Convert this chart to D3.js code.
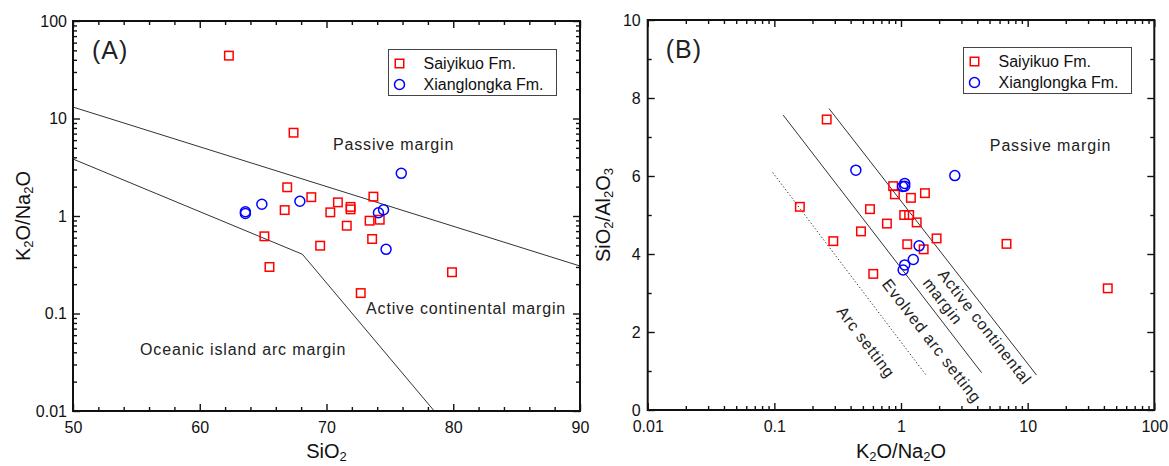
<!DOCTYPE html>
<html>
<head>
<meta charset="utf-8">
<script src="https://cdn.jsdelivr.net/npm/d3@7"></script>
<style>
  body { margin: 0; background: #fff; }
  svg { display: block; font-family: "Liberation Sans", Arial, sans-serif; }
  .tick text { font-size: 16px; fill: #111; }
  .note { font-size: 16px; fill: #222; letter-spacing: 0.85px; }
</style>
</head>
<body>
<div id="chart"></div>
<script>
//dep: d3

// (A) SiO2 vs K2O/Na2O
const saiyikuoA = [[62.3, 44.1], [67.4, 7.15], [66.9, 1.97], [68.8, 1.56], [66.7, 1.15], [70.9, 1.38],
  [70.3, 1.09], [71.9, 1.24], [71.9, 1.17], [73.7, 1.58], [73.4, 0.895], [74.2, 0.916], [71.6, 0.795],
  [73.6, 0.581], [65.1, 0.619], [69.5, 0.496], [65.5, 0.30], [72.7, 0.162], [79.9, 0.265]];
const xianglongkaA = [[63.6, 1.107], [63.6, 1.06], [64.9, 1.32], [67.9, 1.415], [75.9, 2.74],
  [74.5, 1.16], [74.1, 1.08], [74.7, 0.455]];

// (B) K2O/Na2O vs SiO2/Al2O3
const saiyikuoB = [[0.867, 5.74], [0.895, 5.53], [1.197, 5.44], [1.545, 5.56], [0.569, 5.15], [1.06, 5.0],
  [1.16, 5.0], [1.33, 4.81], [0.774, 4.78], [0.483, 4.58], [0.292, 4.33], [1.12, 4.25], [1.51, 4.12],
  [1.91, 4.40], [0.604, 3.49], [0.259, 7.45], [0.159, 5.21], [6.81, 4.26], [42.9, 3.12]];
const xianglongkaB = [[0.44, 6.15], [2.66, 6.01], [1.03, 5.73], [1.07, 5.81], [1.07, 5.74],
  [1.39, 4.21], [1.25, 3.86], [1.07, 3.72], [1.04, 3.59]];

// field boundaries
const passiveBoundA = [[50, 13.1], [90, 0.307]];
const oceanicBoundA = [[50, 3.84], [68.1, 0.405], [78.5, 0.01]];
const arcBoundB = [[0.097, 6.09], [1.59, 0.88]];
const evolvedBoundB = [[0.1175, 7.56], [4.33, 0.956]];
const activeBoundB = [[0.27, 7.73], [11.75, 0.897]];

const xTicksA = [50, 60, 70, 80, 90];
const yTicksA = [0.01, 0.1, 1, 10, 100];
const yTickLabelsA = ["0.01", "0.1", "1", "10", "100"];
const xTicksB = [0.01, 0.1, 1, 10, 100];
const xTickLabelsB = ["0.01", "0.1", "1", "10", "100"];
const yTicksB = [0, 2, 4, 6, 8, 10];

const seriesNames = ["Saiyikuo Fm.", "Xianglongka Fm."];

const svg = d3.select("#chart").append("svg")
  .attr("width", 1169)
  .attr("height", 466);
svg.append("rect").attr("width", 1169).attr("height", 466).attr("fill", "#fff");

function richText(sel, parts) {
  // parts: [text, isSub]
  parts.forEach(function(p) {
    let t = sel.append("tspan").text(p[0]);
    if (p[1]) t.attr("font-size", "0.65em").attr("dy", 2.5);
    else if (sel.selectAll("tspan").size() > 1) t.attr("dy", -2.5);
  });
}

function DiagramPanel(opts) {
  this.o = opts;
  this.x = opts.x;
  this.y = opts.y;
  this.g = svg.append("g");
}

DiagramPanel.prototype = {
  axes: function() {
    let o = this.o, x = this.x, y = this.y, g = this.g;
    let l = x.range()[0], r = x.range()[1], b = y.range()[0], t = y.range()[1];
    let clean = function(s) {
      s.select(".domain").remove();
      s.selectAll("line").attr("stroke", "#111").attr("stroke-width", 1.4);
    };
    // minor ticks
    g.append("g").attr("transform", "translate(0," + b + ")")
      .call(d3.axisBottom(x).tickValues(o.xMinor).tickSize(-4).tickFormat("")).call(clean);
    g.append("g").attr("transform", "translate(0," + t + ")")
      .call(d3.axisTop(x).tickValues(o.xMinor).tickSize(-4).tickFormat("")).call(clean);
    g.append("g").attr("transform", "translate(" + l + ",0)")
      .call(d3.axisLeft(y).tickValues(o.yMinor).tickSize(-4).tickFormat("")).call(clean);
    g.append("g").attr("transform", "translate(" + r + ",0)")
      .call(d3.axisRight(y).tickValues(o.yMinor).tickSize(-4).tickFormat("")).call(clean);
    // major ticks
    g.append("g").attr("transform", "translate(0," + b + ")")
      .call(d3.axisBottom(x).tickValues(o.xTicks).tickSize(-7).tickPadding(10.5)
        .tickFormat(function(d, i) { return o.xLabels[i]; })).call(clean);
    g.append("g").attr("transform", "translate(0," + t + ")")
      .call(d3.axisTop(x).tickValues(o.xTicks).tickSize(-7).tickFormat("")).call(clean);
    g.append("g").attr("transform", "translate(" + l + ",0)")
      .call(d3.axisLeft(y).tickValues(o.yTicks).tickSize(-7).tickPadding(o.yPad)
        .tickFormat(function(d, i) { return o.yLabels[i]; })).call(clean);
    g.append("g").attr("transform", "translate(" + r + ",0)")
      .call(d3.axisRight(y).tickValues(o.yTicks).tickSize(-7).tickFormat("")).call(clean);
    g.selectAll(".tick text").attr("font-family", null).attr("font-size", null);

    g.append("rect")
      .attr("x", l).attr("y", t)
      .attr("width", r - l).attr("height", b - t)
      .attr("fill", "none").attr("stroke", "#111").attr("stroke-width", 2);

    // titles
    let xt = g.append("text").attr("x", (l + r) / 2).attr("y", 458)
      .attr("text-anchor", "middle").attr("font-size", 20).attr("fill", "#111");
    richText(xt, o.xTitle);
    let yt = g.append("text")
      .attr("transform", "translate(" + o.yTitleX + "," + (t + b) / 2 + ") rotate(-90)")
      .attr("text-anchor", "middle").attr("font-size", 20).attr("fill", "#111");
    richText(yt, o.yTitle);

    g.append("text").attr("x", l + o.tagDx).attr("y", t + 38)
      .attr("font-size", 25).attr("letter-spacing", 1).attr("fill", "#222")
      .text(o.tag);
  },
  bounds: function(lines) {
    let x = this.x, y = this.y;
    let line = d3.line().x(function(d) { return x(d[0]); }).y(function(d) { return y(d[1]); });
    this.g.selectAll(".bound").data(lines).enter().append("path")
      .attr("class", "bound")
      .attr("d", function(d) { return line(d.pts); })
      .attr("fill", "none")
      .attr("stroke", "#333")
      .attr("stroke-width", 1)
      .attr("stroke-dasharray", function(d) { return d.dotted ? "1.3,2.2" : null; });
  },
  notes: function(notes) {
    let x = this.x, y = this.y;
    this.g.selectAll(".note").data(notes).enter().append("text")
      .attr("class", "note")
      .attr("text-anchor", function(d) { return d.rot ? "middle" : "start"; })
      .attr("dominant-baseline", function(d) { return d.rot ? "central" : null; })
      .attr("transform", function(d) {
        return "translate(" + x(d.at[0]) + "," + y(d.at[1]) + ")" + (d.rot ? " rotate(" + d.rot + ")" : "");
      })
      .text(function(d) { return d.text; });
  },
  points: function(sq, circ) {
    let x = this.x, y = this.y, s = 8.5;
    this.g.append("g").selectAll("rect").data(sq).enter().append("rect")
      .attr("x", function(d) { return x(d[0]) - s / 2; })
      .attr("y", function(d) { return y(d[1]) - s / 2; })
      .attr("width", s).attr("height", s)
      .attr("fill", "none").attr("stroke", "#ff0000").attr("stroke-width", 1.5);
    this.g.append("g").selectAll("circle").data(circ).enter().append("circle")
      .attr("cx", function(d) { return x(d[0]); })
      .attr("cy", function(d) { return y(d[1]); })
      .attr("r", 5)
      .attr("fill", "none").attr("stroke", "#0000ff").attr("stroke-width", 1.5);
  },
  legend: function(lx, ly) {
    let lg = this.g.append("g").attr("transform", "translate(" + lx + "," + ly + ")");
    lg.append("rect").attr("width", 168).attr("height", 46)
      .attr("fill", "#fff").attr("stroke", "#444").attr("stroke-width", 1);
    let s = 8.5;
    lg.append("rect").attr("x", 11 - s / 2).attr("y", 14 - s / 2).attr("width", s).attr("height", s)
      .attr("fill", "none").attr("stroke", "#ff0000").attr("stroke-width", 1.5);
    lg.append("circle").attr("cx", 11).attr("cy", 35).attr("r", 5)
      .attr("fill", "none").attr("stroke", "#0000ff").attr("stroke-width", 1.5);
    lg.selectAll("text").data(seriesNames).enter().append("text")
      .attr("x", 35).attr("y", function(d, i) { return 14 + i * 21; })
      .attr("dy", "0.35em").attr("font-size", 16).attr("fill", "#111")
      .text(function(d) { return d; });
  }
};

// ---- panel A
let pa = new DiagramPanel({
  x: d3.scaleLinear().domain([50, 90]).range([73, 580]),
  y: d3.scaleLog().domain([0.01, 100]).range([411, 21]),
  xTicks: xTicksA, xLabels: xTicksA.map(String),
  xMinor: d3.range(50, 91, 2).filter(function(v) { return v % 10 !== 0; }),
  yTicks: yTicksA, yLabels: yTickLabelsA, yPad: 6,
  yMinor: d3.scaleLog().domain([0.01, 100]).ticks().filter(function(v) { return yTicksA.indexOf(v) < 0; }),
  xTitle: [["SiO"], ["2", true]],
  yTitle: [["K"], ["2", true], ["O/Na"], ["2", true], ["O"]],
  yTitleX: 30, tag: "(A)", tagDx: 19
});
pa.bounds([{pts: passiveBoundA}, {pts: oceanicBoundA}]);
pa.notes([
  {text: "Passive margin", at: [70.51, 4.75]},
  {text: "Active continental margin", at: [73.12, 0.0989]},
  {text: "Oceanic island arc margin", at: [55.29, 0.0375]}
]);
pa.points(saiyikuoA, xianglongkaA);
pa.axes();
pa.legend(388.5, 49.5);

// ---- panel B
let pb = new DiagramPanel({
  x: d3.scaleLog().domain([0.01, 100]).range([647.7, 1154.3]),
  y: d3.scaleLinear().domain([0, 10]).range([410, 20]),
  xTicks: xTicksB, xLabels: xTickLabelsB,
  xMinor: d3.scaleLog().domain([0.01, 100]).ticks().filter(function(v) { return xTicksB.indexOf(v) < 0; }),
  yTicks: yTicksB, yLabels: yTicksB.map(String), yPad: 7,
  yMinor: [1, 3, 5, 7, 9],
  xTitle: [["K"], ["2", true], ["O/Na"], ["2", true], ["O"]],
  yTitle: [["SiO"], ["2", true], ["/Al"], ["2", true], ["O"], ["3", true]],
  yTitleX: 610, tag: "(B)", tagDx: 18
});
pb.bounds([{pts: arcBoundB, dotted: true}, {pts: evolvedBoundB}, {pts: activeBoundB}]);
pb.notes([
  {text: "Passive margin", at: [5.03, 6.64]},
  {text: "Arc setting", at: [0.529, 1.74], rot: 52.9},
  {text: "Evolved arc setting", at: [1.75, 1.77], rot: 52.4},
  {text: "margin", at: [2.14, 2.79], rot: 52.2},
  {text: "Active continental", at: [4.59, 2.13], rot: 52.2}
]);
pb.points(saiyikuoB, xianglongkaB);
pb.axes();
pb.legend(963.5, 47.5);
</script>
</body>
</html>
